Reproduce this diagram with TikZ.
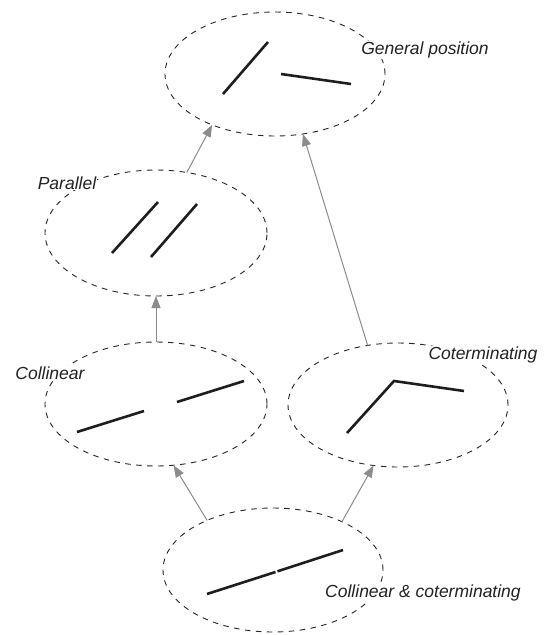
\documentclass[tikz,border=0pt]{standalone}
\usepackage{fontspec}
\setmainfont{Liberation Sans}
\usetikzlibrary{shapes.geometric,arrows.meta}
\definecolor{segc}{HTML}{1E1E1E}
\definecolor{arrc}{HTML}{8C8C8C}
\definecolor{txtc}{HTML}{222222}
\begin{document}
\begin{tikzpicture}[x=1pt,y=-1pt,
  region/.style={ellipse,draw=black!85,line width=0.9pt,dash pattern=on 5.5pt off 5.5pt,
    inner sep=0pt,outer sep=0pt,minimum width=220pt,minimum height=124pt},
  seg/.style={draw=segc,line width=2.6pt},
  rel/.style={draw=arrc,line width=1pt,-{Triangle[length=12pt,width=9pt]}},
  lab/.style={fill=white,inner sep=1pt,text=txtc,font=\fontsize{17.5}{20}\selectfont\itshape}]
\useasboundingbox (0,0) rectangle (549,635);
\fill[white] (0,0) rectangle (549,635);
% regions
\node[region] (gen) at (275,74) {};
\node[region,minimum width=222pt,minimum height=126pt] (par) at (156,233) {};
\node[region,minimum width=222pt] (col) at (156,404) {};
\node[region] (cot) at (398,405) {};
\node[region] (cc) at (273,570) {};
% segments
\coordinate (g1a) at (223,94); \coordinate (g1b) at (268,42);
\coordinate (g2a) at (281,74); \coordinate (g2b) at (351,84);
\draw[seg] (g1a) -- (g1b); \draw[seg] (g2a) -- (g2b);
\coordinate (p1a) at (112,253); \coordinate (p1b) at (158,202);
\coordinate (p2a) at (151,257); \coordinate (p2b) at (197,204);
\draw[seg] (p1a) -- (p1b); \draw[seg] (p2a) -- (p2b);
\coordinate (c1a) at (77,432); \coordinate (c1b) at (144,411);
\coordinate (c2a) at (177,402); \coordinate (c2b) at (244,381);
\draw[seg] (c1a) -- (c1b); \draw[seg] (c2a) -- (c2b);
\coordinate (t1) at (347,433); \coordinate (t2) at (394,381); \coordinate (t3) at (464,391);
\draw[seg,line join=miter] (t1) -- (t2) -- (t3);
\coordinate (k1a) at (207,594); \coordinate (k1b) at (275.5,572);
\coordinate (k2a) at (277.5,571.3); \coordinate (k2b) at (343,550);
\draw[seg] (k1a) -- (k1b); \draw[seg] (k2a) -- (k2b);
% relations
\draw[rel] (par.63.8) -- (gen.219);
\draw[rel] (cot.117.3) -- (gen.295);
\draw[rel] (col.90) -- (par.270);
\draw[rel] (cc.143) -- (col.286);
\draw[rel] (cc.35.8) -- (cot.248.7);
% labels
\node[lab] (lgen) at (425,50) {General position};
\node[lab] (lpar) at (67,183) {Parallel};
\node[lab] (lcol) at (50,373) {Collinear};
\node[lab] (lcot) at (483,355) {Coterminating};
\node[lab] (lcc) at (423,593) {Collinear \& coterminating};
\end{tikzpicture}
\end{document}
